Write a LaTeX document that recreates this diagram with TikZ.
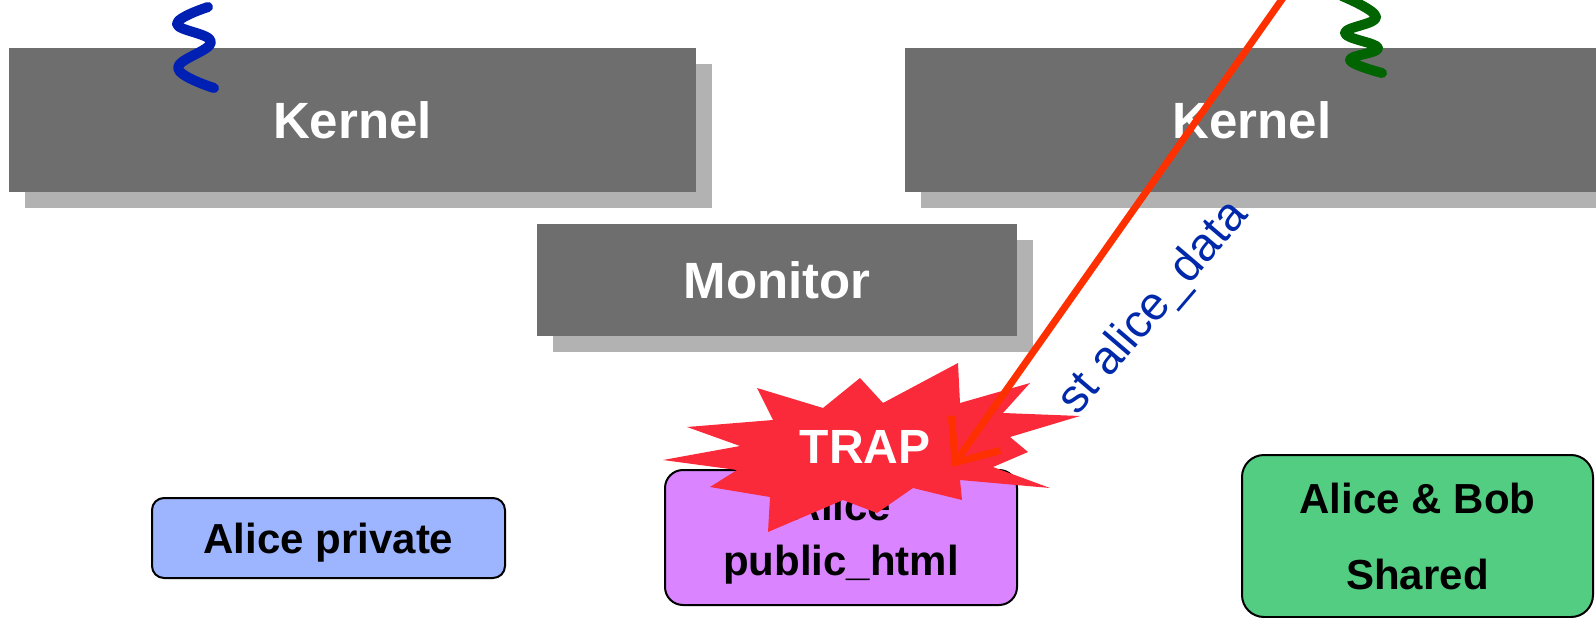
\documentclass[tikz,border=0pt]{standalone}
\usepackage{fontspec}
\setmainfont{Liberation Sans}
\usetikzlibrary{arrows.meta,shadows}

\definecolor{kernelgray}{RGB}{110,110,110}
\definecolor{shadowgray}{RGB}{178,178,178}
\definecolor{privblue}{RGB}{157,180,255}
\definecolor{pubviolet}{RGB}{218,133,255}
\definecolor{sharedgreen}{RGB}{82,205,130}
\definecolor{trapred}{RGB}{250,42,58}
\definecolor{arrowred}{RGB}{255,48,0}
\definecolor{threadblue}{RGB}{0,32,180}
\definecolor{threadgreen}{RGB}{0,100,0}
\definecolor{labelblue}{RGB}{0,40,170}

\tikzset{
  layerbox/.style={fill=kernelgray, text=white, inner sep=0pt,
    font=\fontsize{51}{60}\selectfont\bfseries,
    general shadow={fill=shadowgray, shadow xshift=16pt, shadow yshift=-16pt}},
  regionbox/.style={draw=black, line width=2pt, inner sep=0pt, align=center,
    font=\fontsize{42}{55}\selectfont\bfseries},
  thread/.style={line width=10pt, line cap=round, line join=round},
  storearrow/.style={arrowred, line width=7pt,
    -{Straight Barb[length=36pt,width=60pt,line width=7pt]}},
}

\begin{document}
\begin{tikzpicture}[x=1pt,y=-1pt]
  \useasboundingbox (0,0) rectangle (1596,618);

  % kernels and monitor
  \node[layerbox, minimum width=687pt, minimum height=144pt] (kernelA) at (352.5,120) {Kernel};
  \node[layerbox, minimum width=694pt, minimum height=144pt] (kernelB) at (1252,120) {Kernel};
  \node[layerbox, minimum width=480pt, minimum height=112pt] (monitor) at (777,280) {Monitor};

  % threads running in each kernel
  \draw[thread, threadblue] plot[smooth, tension=0.7] coordinates
    {(208,7) (177,24) (211,42) (178,68) (214,88)};
  \draw[thread, threadgreen] plot[smooth, tension=0.7] coordinates
    {(1342,-4) (1376,17) (1345,33) (1378,48) (1350,60) (1382,73)};

  % memory regions
  \node[regionbox, fill=privblue, rounded corners=12pt, text depth=0pt,
        minimum width=353pt, minimum height=80pt] (private) at (328.5,538) {Alice private};
  \node[regionbox, fill=pubviolet, rounded corners=18pt,
        minimum width=352pt, minimum height=135pt] (public) at (841,537.5) {Alice\\public\_html};
  \node[regionbox, fill=sharedgreen, rounded corners=22pt,
        minimum width=351pt, minimum height=162pt, font=\fontsize{42}{76}\selectfont\bfseries]
        (shared) at (1417.5,536) {Alice \& Bob\\Shared};

  % trap burst
  \fill[trapred] (663,460) -- (740,446) -- (687,427) -- (773,420) -- (757,388)
    -- (823,408) -- (860,378) -- (883,403) -- (958,363) -- (960,403)
    -- (1030,383) -- (1003,413) -- (1080,416) -- (1010,437) -- (1028,452)
    -- (993,467) -- (1050,488) -- (960,480) -- (962,500) -- (913,488)
    -- (877,513) -- (843,500) -- (768,532) -- (770,497) -- (710,487)
    -- (737,470) -- cycle;
  \node[text=white, font=\fontsize{48}{56}\selectfont\bfseries, inner sep=0pt] (trap) at (865,447) {TRAP};

  % store instruction from the second kernel
  \coordinate (src) at (1290,-12);
  \coordinate (hit) at (952,467);
  \draw[storearrow] (src) -- (hit);
  \node[text=labelblue, rotate=49.5, font=\fontsize{47}{56}\selectfont, inner sep=0pt]
    (store) at (1154,308) {st alice\_data};
\end{tikzpicture}
\end{document}
